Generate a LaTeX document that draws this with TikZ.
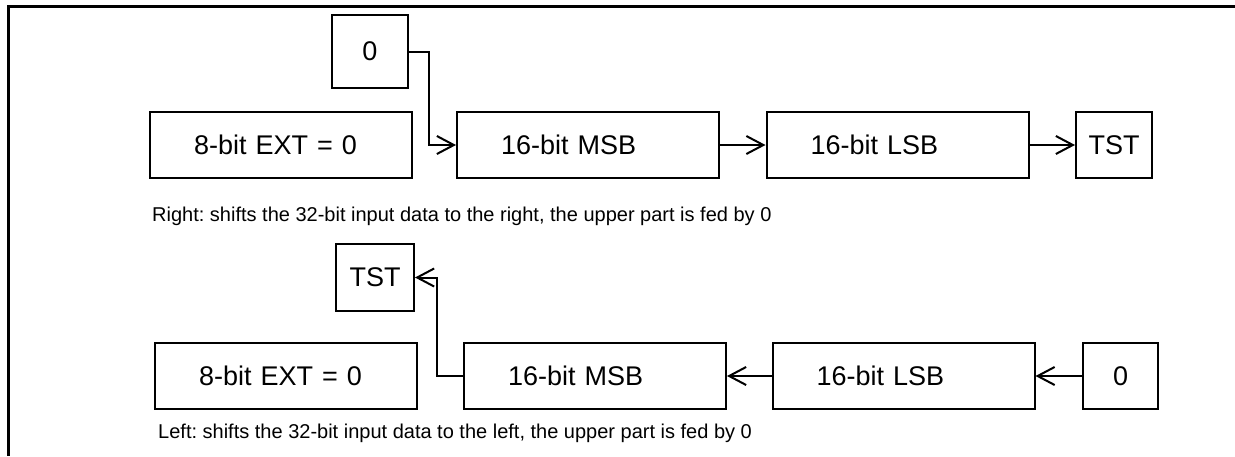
\documentclass[tikz,border=0pt]{standalone}
\usepackage{fontspec}
\setmainfont{Liberation Sans}
\usetikzlibrary{arrows.meta}
\tikzset{
  widebox/.style={draw, line width=2pt, minimum height=66pt, text width=174pt,
    inner xsep=44pt, inner ysep=0pt, align=left, font=\fontsize{27}{31}\selectfont},
  smallbox/.style={draw, line width=2pt, minimum width=76pt, minimum height=66pt,
    inner sep=0pt, font=\fontsize{27}{31}\selectfont},
  arr/.style={line width=2pt, -{Straight Barb[length=17pt,width=18pt]}},
  caption/.style={anchor=base west, inner sep=0pt, font=\fontsize{20}{24}\selectfont},
}
\begin{document}
\frenchspacing
\begin{tikzpicture}[x=1pt, y=-1pt]
\useasboundingbox (0,0) rectangle (1235,456);
% frame
\draw[line width=3pt] (1235,6) -- (8.5,6) -- (8.5,456);
% top row: right shift
\node[smallbox, minimum height=73pt] (zero1) at (370,51.5) {0};
\node[widebox] (ext1) at (281,145) {8-bit EXT = 0};
\node[widebox] (msb1) at (588,145) {16-bit MSB};
\node[widebox] (lsb1) at (897.5,145) {16-bit LSB};
\node[smallbox] (tst1) at (1114,145) {TST};
\coordinate (c1) at (429,0);
\draw[arr] (zero1.east) -| (c1 |- msb1.west) -- (msb1.west);
\draw[arr] (msb1.east) -- (lsb1.west);
\draw[arr] (lsb1.east) -- (tst1.west);
\node[caption] (cap1) at (152,221) {Right: shifts the 32-bit input data to the right, the upper part is fed by 0};
% bottom row: left shift
\node[smallbox, minimum width=78pt, minimum height=67pt] (tst2) at (375,277.5) {TST};
\node[widebox] (ext2) at (286,376) {8-bit EXT = 0};
\node[widebox] (msb2) at (595,376) {16-bit MSB};
\node[widebox] (lsb2) at (903.5,376) {16-bit LSB};
\node[smallbox, minimum width=75pt] (zero2) at (1120.5,376) {0};
\coordinate (c2) at (437,0);
\draw[arr] (msb2.west) -| (c2 |- tst2.east) -- (tst2.east);
\draw[arr] (lsb2.west) -- (msb2.east);
\draw[arr] (zero2.west) -- (lsb2.east);
\node[caption] (cap2) at (158,438) {Left: shifts the 32-bit input data to the left, the upper part is fed by 0};
\end{tikzpicture}
\end{document}
